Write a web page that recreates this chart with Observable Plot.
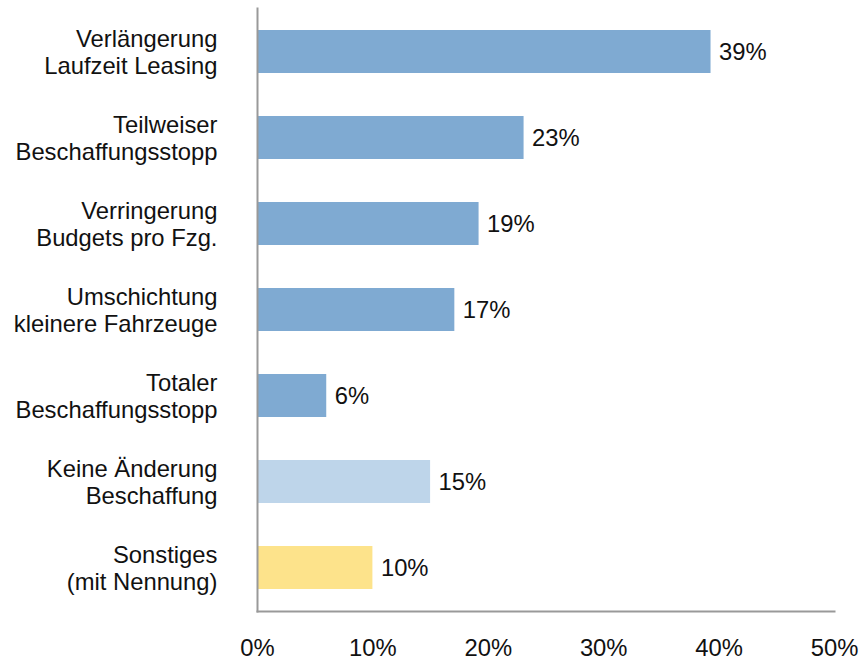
<!DOCTYPE html>
<html>
<head>
<meta charset="utf-8">
<script src="https://cdn.jsdelivr.net/npm/d3@7"></script>
<script src="https://cdn.jsdelivr.net/npm/@observablehq/plot@0.6"></script>
<style>
  html, body { margin: 0; padding: 0; background: #fff; }
  #chart { width: 865px; height: 660px; }
</style>
</head>
<body>
<div id="chart"></div>
<script>
const categories = [
  "Verlängerung\nLaufzeit Leasing",
  "Teilweiser\nBeschaffungsstopp",
  "Verringerung\nBudgets pro Fzg.",
  "Umschichtung\nkleinere Fahrzeuge",
  "Totaler\nBeschaffungsstopp",
  "Keine Änderung\nBeschaffung",
  "Sonstiges\n(mit Nennung)"
];
const values = [39.3, 23.1, 19.2, 17.1, 6.0, 15.0, 10.0];
const labels = ["39%", "23%", "19%", "17%", "6%", "15%", "10%"];
const groups = ["Änderung", "Änderung", "Änderung", "Änderung", "Änderung", "Keine", "Sonstiges"];
const xTicks = [0, 10, 20, 30, 40, 50];

const data = categories.map((c, i) => ({category: c, value: values[i], label: labels[i], group: groups[i]}));

const chart = Plot.plot({
  width: 865,
  height: 660,
  marginLeft: 257,
  marginRight: 31,
  marginTop: 8,
  marginBottom: 49,
  style: {fontFamily: "'Liberation Sans', Arial, Helvetica, sans-serif", fontSize: "23.8px", color: "#111", background: "#fff"},
  x: {domain: [0, 50]},
  y: {domain: categories, paddingInner: 0.5, paddingOuter: 0.25},
  color: {domain: ["Änderung", "Keine", "Sonstiges"], range: ["#7faad2", "#bed5ea", "#fde38b"]},
  marks: [
    Plot.barX(data, {x: "value", y: "category", fill: "group"}),
    Plot.text(data, {x: "value", y: "category", text: "label", textAnchor: "start", dx: 8, fontSize: 23.8, fill: "#111"}),
    Plot.frame({anchor: "left", stroke: "#999", strokeWidth: 2}),
    Plot.frame({anchor: "bottom", stroke: "#999", strokeWidth: 2}),
    Plot.axisX({ticks: xTicks, tickFormat: d => d + "%", tickSize: 0, tickPadding: 28, fontSize: 23.8, label: null}),
    Plot.axisY({tickSize: 0, tickPadding: 40, fontSize: 23.8, lineHeight: 1.12, label: null})
  ]
});
document.getElementById("chart").appendChild(chart);
</script>
</body>
</html>
